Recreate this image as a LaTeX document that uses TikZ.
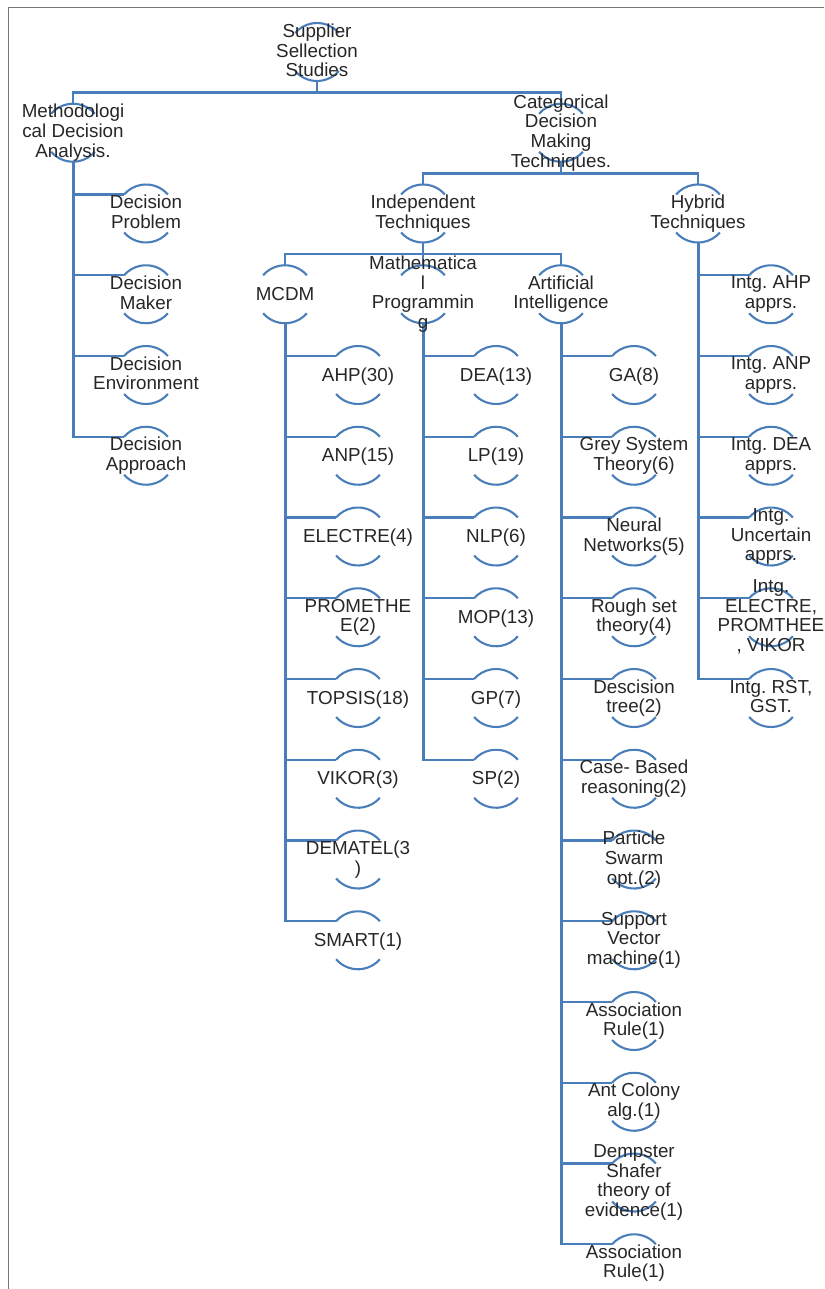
\documentclass[tikz,border=0pt]{standalone}
\usepackage{fontspec}
\setmainfont{Liberation Sans}
\usetikzlibrary{backgrounds}
\definecolor{ln}{HTML}{4A7EBB}
\definecolor{tx}{HTML}{262626}
\definecolor{fr}{HTML}{777777}
\newcommand\zs{\vrule height 16.35pt depth 3.35pt width 0pt}
\tikzset{
  txt/.style={inner sep=0pt, align=center, text=tx,
    font=\fontsize{18.8}{19.7}\selectfont\frenchspacing,
    execute at begin node=\zs, execute at end node=\zs},
  conn/.style={draw=ln, line width=2.8pt},
  branch/.style={draw=ln, line width=2.2pt},
  trunk/.style={draw=ln, line width=3pt},
  arcline/.style={draw=ln, line width=2.1pt},
  frame/.style={draw=fr, line width=1.8pt}
}
\newcommand\mynodetop[4]{%
  \node[txt] (#1) at (#2,-#3) {#4};
  \coordinate (#1-in) at ([shift={(139:29)}]#1.center);
  \begin{scope}[on background layer]
    \draw[arcline] ([shift={(41:29)}]#1.center) arc[start angle=41,end angle=139,radius=29];
  \end{scope}}
\newcommand\mynode[4]{%
  \mynodetop{#1}{#2}{#3}{#4}%
  \begin{scope}[on background layer]
    \draw[arcline] ([shift={(221:29)}]#1.center) arc[start angle=221,end angle=319,radius=29];
  \end{scope}}
\newcommand\treeconn[2]{%
  \begin{scope}[on background layer]
    \draw[conn] ([shift={(0,-29)}]#1.center) -- ++(0,-11.4) -| ([shift={(0,29)}]#2.center);
  \end{scope}}
\newcommand\listconn[2]{%
  \begin{scope}[on background layer]
    \draw[branch] ([shift={(0,-29)}]#1.center) |- (#2-in);
  \end{scope}}
\newcommand\trunkline[2]{%
  \begin{scope}[on background layer]
    \draw[trunk] ([shift={(0,-29)}]#1.center) -- (#1.center |- #2-in);
  \end{scope}}
\begin{document}
\begin{tikzpicture}[x=1pt,y=1pt]
\useasboundingbox (0,0) rectangle (824,-1289);
\clip (0,0) rectangle (824,-1289);
\draw[frame] (8.5,-1289) -- (8.5,-7.5) -- (824,-7.5);
% level rows
\def\ra{52}\def\rb{132.75}\def\rc{213.5}\def\rd{294.25}\def\re{375}
\def\rf{455.75}\def\rg{536.5}\def\rh{617.25}\def\ri{698}\def\rj{778.75}
\def\rk{859.5}\def\rl{940.25}\def\rm{1021}\def\rn{1101.75}\def\ro{1182.5}\def\rp{1263.25}
\mynode{root}{317}{\ra}{Supplier\\Sellection\\Studies}
\mynode{meth}{73}{\rb}{Methodologi\\cal Decision\\Analysis.}
\mynode{cat}{561}{\rb}{Categorical\\Decision\\Making\\Techniques.}
\mynode{dp}{146}{\rc}{Decision\\Problem}
\mynode{dm}{146}{\rd}{Decision\\Maker}
\mynode{de}{146}{\re}{Decision\\Environment}
\mynode{da}{146}{\rf}{Decision\\Approach}
\mynode{ind}{423}{\rc}{Independent\\Techniques}
\mynode{hyb}{698}{\rc}{Hybrid\\Techniques}
\mynode{mcdm}{285}{\rd}{MCDM}
\mynode{mp}{423}{\rd}{Mathematica\\l\\Programmin\\g}
\mynode{ai}{561}{\rd}{Artificial\\Intelligence}
% hybrid children
\mynode{h1}{771}{\rd}{Intg. AHP\\apprs.}
\mynode{h2}{771}{\re}{Intg. ANP\\apprs.}
\mynode{h3}{771}{\rf}{Intg. DEA\\apprs.}
\mynode{h4}{771}{\rg}{Intg.\\Uncertain\\apprs.}
\mynode{h5}{771}{\rh}{Intg.\\ELECTRE,\\PROMTHEE\\, VIKOR}
\mynode{h6}{771}{\ri}{Intg. RST,\\GST.}
% MCDM children
\mynode{m1}{358}{\re}{AHP(30)}
\mynode{m2}{358}{\rf}{ANP(15)}
\mynode{m3}{358}{\rg}{ELECTRE(4)}
\mynode{m4}{358}{\rh}{PROMETHE\\E(2)}
\mynode{m5}{358}{\ri}{TOPSIS(18)}
\mynode{m6}{358}{\rj}{VIKOR(3)}
\mynode{m7}{358}{\rk}{DEMATEL(3\\)}
\mynode{m8}{358}{\rl}{SMART(1)}
% Math programming children
\mynode{p1}{496}{\re}{DEA(13)}
\mynode{p2}{496}{\rf}{LP(19)}
\mynode{p3}{496}{\rg}{NLP(6)}
\mynode{p4}{496}{\rh}{MOP(13)}
\mynode{p5}{496}{\ri}{GP(7)}
\mynode{p6}{496}{\rj}{SP(2)}
% AI children
\mynode{a1}{634}{\re}{GA(8)}
\mynode{a2}{634}{\rf}{Grey System\\Theory(6)}
\mynode{a3}{634}{\rg}{Neural\\Networks(5)}
\mynode{a4}{634}{\rh}{Rough set\\theory(4)}
\mynode{a5}{634}{\ri}{Descision\\tree(2)}
\mynode{a6}{634}{\rj}{Case- Based\\reasoning(2)}
\mynode{a7}{634}{\rk}{Particle\\Swarm\\opt.(2)}
\mynode{a8}{634}{\rl}{Support\\Vector\\machine(1)}
\mynode{a9}{634}{\rm}{Association\\Rule(1)}
\mynode{a10}{634}{\rn}{Ant Colony\\alg.(1)}
\mynode{a11}{634}{\ro}{Dempster\\Shafer\\theory of\\evidence(1)}
\mynodetop{a12}{634}{\rp}{Association\\Rule(1)}
% tree connectors
\treeconn{root}{meth}
\treeconn{root}{cat}
\treeconn{cat}{ind}
\treeconn{cat}{hyb}
\treeconn{ind}{mcdm}
\treeconn{ind}{mp}
\treeconn{ind}{ai}
% list connectors
\trunkline{meth}{da}
\trunkline{hyb}{h6}
\trunkline{mcdm}{m8}
\trunkline{mp}{p6}
\trunkline{ai}{a12}
\foreach \c in {dp,dm,de,da} {\listconn{meth}{\c}}
\foreach \c in {h1,h2,h3,h4,h5,h6} {\listconn{hyb}{\c}}
\foreach \c in {m1,m2,m3,m4,m5,m6,m7,m8} {\listconn{mcdm}{\c}}
\foreach \c in {p1,p2,p3,p4,p5,p6} {\listconn{mp}{\c}}
\foreach \c in {a1,a2,a3,a4,a5,a6,a7,a8,a9,a10,a11,a12} {\listconn{ai}{\c}}
\end{tikzpicture}
\end{document}
